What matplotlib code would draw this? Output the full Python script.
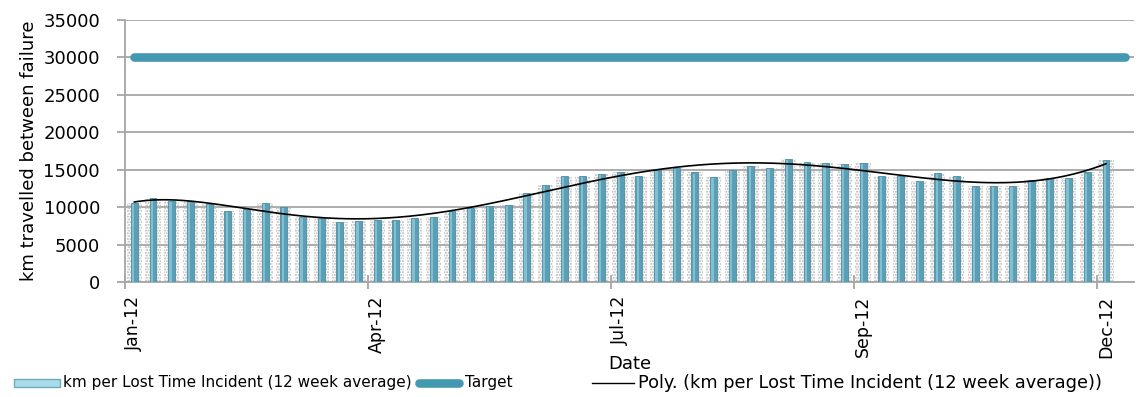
import numpy as np
import matplotlib
matplotlib.use("Agg")
import matplotlib.pyplot as plt
from matplotlib.lines import Line2D
from matplotlib.patches import Rectangle

# Weekly km per lost time incident (12 week rolling average), 2012
km_per_lti = [10520, 11180, 10870, 10870, 10420, 9540, 9760, 10520, 9980, 8740,
              8530, 8000, 8210, 8250, 8300, 8530, 8740, 9500, 9850, 10160,
              10290, 11840, 12950, 14180, 14180, 14400, 14650, 14180, 15020, 15290,
              14630, 14050, 15020, 15460, 15290, 16390, 16040, 15900, 15730, 15900,
              14180, 14140, 13520, 14580, 14180, 12810, 12810, 12810, 13610, 13910,
              13910, 14630, 16350]
target_km = 30000
n_weeks = 54
tick_labels = ["Jan-12", "Apr-12", "Jul-12", "Sep-12", "Dec-12"]
label_weeks = [0, 13, 26, 39, 52]
legend_labels = ["km per Lost Time Incident (12 week average)", "Target",
                 "Poly. (km per Lost Time Incident (12 week average))"]

bar_color = "#5A9FB5"
target_color = "#4399B0"
grid_color = "#A6A6A6"

plt.rcParams["font.family"] = ["DejaVu Sans"]

W, H = 1138, 397
fig = plt.figure(figsize=(W / 100, H / 100), dpi=100)
ax = fig.add_axes([125 / W, 1 - 282 / H, 1009 / W, 262 / H])

x = np.arange(len(km_per_lti))
vals = np.array(km_per_lti, dtype=float)

# speckled shadow behind each column
ax.bar(x, vals, width=0.82, facecolor="none", edgecolor="#B4B4B4",
       hatch="......", linewidth=0, zorder=2)
# columns with a lighter highlight strip
ax.bar(x, vals, width=0.37, color=bar_color, edgecolor="#4E8FA3",
       linewidth=0.6, zorder=3)
ax.bar(x - 0.06, vals - 150, width=0.12, color="#8CC9DA", linewidth=0,
       zorder=4, alpha=0.8)

# target line across all weeks
tx = np.arange(n_weeks)
ax.plot(tx, [target_km] * n_weeks, color=target_color, linewidth=6.2,
        solid_capstyle="round", zorder=5)

# polynomial trendline (order 6) fitted to the weekly values
coef = np.polyfit(x, vals, 6)
xf = np.linspace(0, len(vals) - 1, 400)
ax.plot(xf, np.polyval(coef, xf), color="black", linewidth=1.2, zorder=6)

ax.set_xlim(-0.5, n_weeks - 0.5)
ax.set_ylim(0, 35000)
ax.set_yticks(np.arange(0, 35001, 5000))
ax.yaxis.grid(True, color=grid_color, linewidth=1.3)
ax.set_axisbelow(True)

ax.set_xticks(label_weeks)
ax.set_xticklabels(tick_labels, rotation=90, fontsize=12.5)
ax.set_xticks(np.arange(-0.5, n_weeks, 13), minor=True)
ax.tick_params(axis="x", which="major", length=0, pad=10)
ax.tick_params(axis="x", which="minor", length=10, direction="inout",
               color=grid_color, width=1.3)
ax.tick_params(axis="y", length=6, color=grid_color, width=1.3, pad=12,
               labelsize=13)

for s in ["top", "right"]:
    ax.spines[s].set_visible(False)
for s in ["left", "bottom"]:
    ax.spines[s].set_color(grid_color)
    ax.spines[s].set_linewidth(1.3)

ax.set_ylabel("km travelled between failure", fontsize=13, labelpad=4)
ax.set_xlabel("Date", fontsize=13, labelpad=-2)

# legend row along the bottom edge, laid out in pixel positions
def fx(px):
    return px / W

ly = 1 - 383 / H
fig.add_artist(Rectangle((fx(14), ly - 4 / H), 46 / W, 8 / H,
                         transform=fig.transFigure, facecolor="#A9DCEA",
                         edgecolor="#6FA9BB", linewidth=1.0))
fig.text(fx(63), ly, legend_labels[0], fontsize=11, va="center", ha="left")
fig.add_artist(Line2D([fx(419), fx(459)], [ly, ly], transform=fig.transFigure,
                      color=target_color, linewidth=6.2, solid_capstyle="round"))
fig.text(fx(465), ly, legend_labels[1], fontsize=11, va="center", ha="left")
fig.add_artist(Line2D([fx(592), fx(634)], [ly, ly], transform=fig.transFigure,
                      color="black", linewidth=1.0))
fig.text(fx(638), ly, legend_labels[2], fontsize=12.8, va="center", ha="left")

fig.savefig("out.png", dpi=100)
